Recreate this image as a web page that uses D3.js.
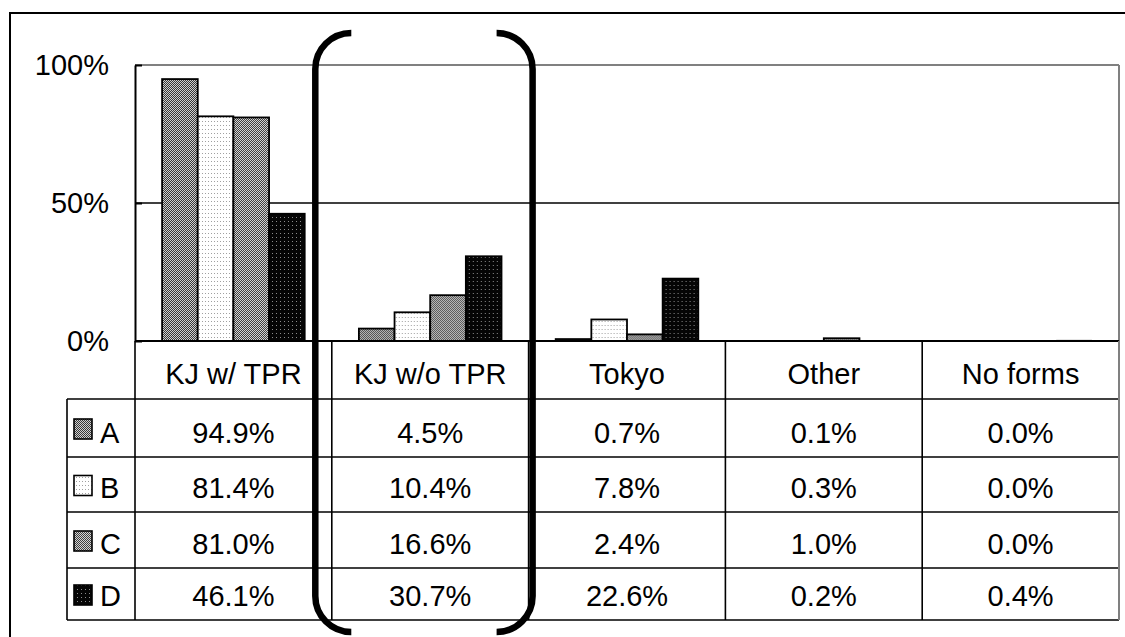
<!DOCTYPE html>
<html>
<head>
<meta charset="utf-8">
<script src="https://cdn.jsdelivr.net/npm/d3@7"></script>
<style>
  html, body { margin: 0; padding: 0; background: #fff; }
  svg { display: block; font-family: "Liberation Sans", Arial, sans-serif; }
</style>
</head>
<body>
<svg id="chart" width="1125" height="637"></svg>
<script>
// Response categories and the four groups compared
const categories = ["KJ w/ TPR", "KJ w/o TPR", "Tokyo", "Other", "No forms"];
const seriesNames = ["A", "B", "C", "D"];
const valuesA = [94.9, 4.5, 0.7, 0.1, 0.0];
const valuesB = [81.4, 10.4, 7.8, 0.3, 0.0];
const valuesC = [81.0, 16.6, 2.4, 1.0, 0.0];
const valuesD = [46.1, 30.7, 22.6, 0.2, 0.4];
const yTicks = [0, 50, 100];
const highlighted = "KJ w/o TPR";

const seriesValues = { A: valuesA, B: valuesB, C: valuesC, D: valuesD };

const W = 1125, H = 637;
const plot = { left: 135, right: 1119, top: 65, bottom: 341 };
const table = { legendLeft: 67, rowEdges: [341, 399, 457, 512, 568, 620] };
const FONT = 29;

const svg = d3.select("#chart");
svg.append("rect").attr("width", W).attr("height", H).attr("fill", "#fff");

// Fill patterns for the bars
const defs = svg.append("defs");
function checker(id, light, dark) {
  const p = defs.append("pattern").attr("id", id)
    .attr("patternUnits", "userSpaceOnUse").attr("width", 2).attr("height", 2);
  p.append("rect").attr("width", 2).attr("height", 2).attr("fill", light);
  p.append("rect").attr("x", 0).attr("y", 0).attr("width", 1).attr("height", 1).attr("fill", dark);
  p.append("rect").attr("x", 1).attr("y", 1).attr("width", 1).attr("height", 1).attr("fill", dark);
}
function dots(id, bg, dot, w, h) {
  const p = defs.append("pattern").attr("id", id)
    .attr("patternUnits", "userSpaceOnUse").attr("width", w).attr("height", h);
  p.append("rect").attr("width", w).attr("height", h).attr("fill", bg);
  p.append("rect").attr("x", 1).attr("y", 1).attr("width", 1).attr("height", 1).attr("fill", dot);
}
checker("patA", "#d0d0d0", "#383838");
dots("patB", "#ffffff", "#a0a0a0", 3, 4);
checker("patC", "#d4d4d4", "#404040");
dots("patD", "#050505", "#8c8c8c", 4, 4);
const fillOf = { A: "url(#patA)", B: "url(#patB)", C: "url(#patC)", D: "url(#patD)" };

// Scales
const x0 = d3.scaleBand().domain(categories).range([plot.left, plot.right]).paddingInner(0).paddingOuter(0);
const x1 = d3.scaleBand().domain(seriesNames).range([0, x0.bandwidth()]).paddingInner(0).paddingOuter(0.76);
const y = d3.scaleLinear().domain([0, 100]).range([plot.bottom, plot.top]);

// Outer frame (top and left edges)
svg.append("line").attr("x1", 10).attr("x2", W).attr("y1", 13).attr("y2", 13)
  .attr("stroke", "#000").attr("stroke-width", 2);
svg.append("line").attr("x1", 10).attr("x2", 10).attr("y1", 12).attr("y2", H)
  .attr("stroke", "#000").attr("stroke-width", 2);

// Plot area frame: grey top and right edges
svg.append("line").attr("x1", plot.left).attr("x2", plot.right).attr("y1", y(100)).attr("y2", y(100))
  .attr("stroke", "#808080").attr("stroke-width", 2);
svg.append("line").attr("x1", plot.right).attr("x2", plot.right).attr("y1", y(100)).attr("y2", plot.bottom)
  .attr("stroke", "#808080").attr("stroke-width", 2);

// Gridline at 50%
svg.append("line").attr("x1", plot.left).attr("x2", plot.right).attr("y1", y(50)).attr("y2", y(50))
  .attr("stroke", "#000").attr("stroke-width", 1.6);

// Y axis
const yAxis = svg.append("g").attr("transform", `translate(${plot.left},0)`)
  .call(d3.axisLeft(y).tickValues(yTicks).tickFormat(d => d + "%").tickSize(0).tickPadding(26));
yAxis.select(".domain").attr("stroke", "#000").attr("stroke-width", 2);
yAxis.selectAll("text").attr("font-size", FONT).attr("fill", "#000")
  .attr("font-family", "Liberation Sans, Arial, sans-serif");
// short inner tick marks
yAxis.selectAll(".tick").append("line").attr("x1", 0).attr("x2", 7)
  .attr("stroke", "#000").attr("stroke-width", 2);

// Bars (only bars tall enough to show get an outline)
const groups = svg.append("g").selectAll("g").data(categories).join("g")
  .attr("transform", d => `translate(${x0(d)},0)`);
groups.selectAll("rect")
  .data((c, i) => seriesNames.map(s => ({ s, v: seriesValues[s][i] })))
  .join("rect")
  .attr("x", d => x1(d.s))
  .attr("width", x1.bandwidth())
  .attr("y", d => y(d.v))
  .attr("height", d => plot.bottom - y(d.v))
  .attr("fill", d => fillOf[d.s])
  .attr("stroke", d => d.v >= 0.5 ? "#000" : "none")
  .attr("stroke-width", 1.8);

// Data table below the plot
const rows = table.rowEdges;
const tableG = svg.append("g");
const lineStyle = sel => sel.attr("stroke", "#000").attr("stroke-width", 1.6);

// horizontal rules
rows.forEach((ry, i) => {
  const xl = i === 0 ? plot.left : table.legendLeft;
  tableG.append("line").attr("x1", xl).attr("x2", plot.right).attr("y1", ry).attr("y2", ry)
    .call(lineStyle).attr("stroke-width", i === 0 ? 2 : 1.6);
});
// vertical rules
tableG.append("line").attr("x1", table.legendLeft).attr("x2", table.legendLeft)
  .attr("y1", rows[1]).attr("y2", rows[rows.length - 1]).call(lineStyle);
categories.forEach(c => {
  tableG.append("line").attr("x1", x0(c)).attr("x2", x0(c))
    .attr("y1", rows[0]).attr("y2", rows[rows.length - 1]).call(lineStyle);
});
tableG.append("line").attr("x1", plot.right).attr("x2", plot.right)
  .attr("y1", rows[0]).attr("y2", rows[rows.length - 1]).attr("stroke", "#808080").attr("stroke-width", 2);

// header labels
categories.forEach(c => {
  tableG.append("text").attr("x", x0(c) + x0.bandwidth() / 2).attr("y", rows[1] - 15)
    .attr("text-anchor", "middle").attr("font-size", FONT).text(c);
});

// legend keys and values
seriesNames.forEach((s, r) => {
  const top = rows[r + 1], bot = rows[r + 2];
  const mid = (top + bot) / 2;
  tableG.append("rect").attr("x", 74).attr("y", mid - 9).attr("width", 18).attr("height", 20)
    .attr("fill", fillOf[s]).attr("stroke", "#000").attr("stroke-width", 1.6);
  tableG.append("text").attr("x", 100).attr("y", bot - 14.5)
    .attr("font-size", FONT).text(s);
  categories.forEach((c, i) => {
    tableG.append("text").attr("x", x0(c) + x0.bandwidth() / 2).attr("y", bot - 14.5)
      .attr("text-anchor", "middle").attr("font-size", FONT)
      .text(seriesValues[s][i].toFixed(1) + "%");
  });
});

// Bracket pair around the highlighted column
const bx0 = x0(highlighted), bx1 = x0(highlighted) + x0.bandwidth();
const bTop = 33, bBot = 632, r = 36;
const leftX = bx0 - 16.5, rightX = bx1 + 4;
const bracket = svg.append("g").attr("fill", "none").attr("stroke", "#000")
  .attr("stroke-width", 6.5);
const lp = d3.path();
lp.moveTo(leftX + r, bTop);
lp.arcTo(leftX, bTop, leftX, bTop + r, r);
lp.lineTo(leftX, bBot - r);
lp.arcTo(leftX, bBot, leftX + r, bBot, r);
bracket.append("path").attr("d", lp.toString());
const rp = d3.path();
rp.moveTo(rightX - r, bTop);
rp.arcTo(rightX, bTop, rightX, bTop + r, r);
rp.lineTo(rightX, bBot - r);
rp.arcTo(rightX, bBot, rightX - r, bBot, r);
bracket.append("path").attr("d", rp.toString());
</script>
</body>
</html>
